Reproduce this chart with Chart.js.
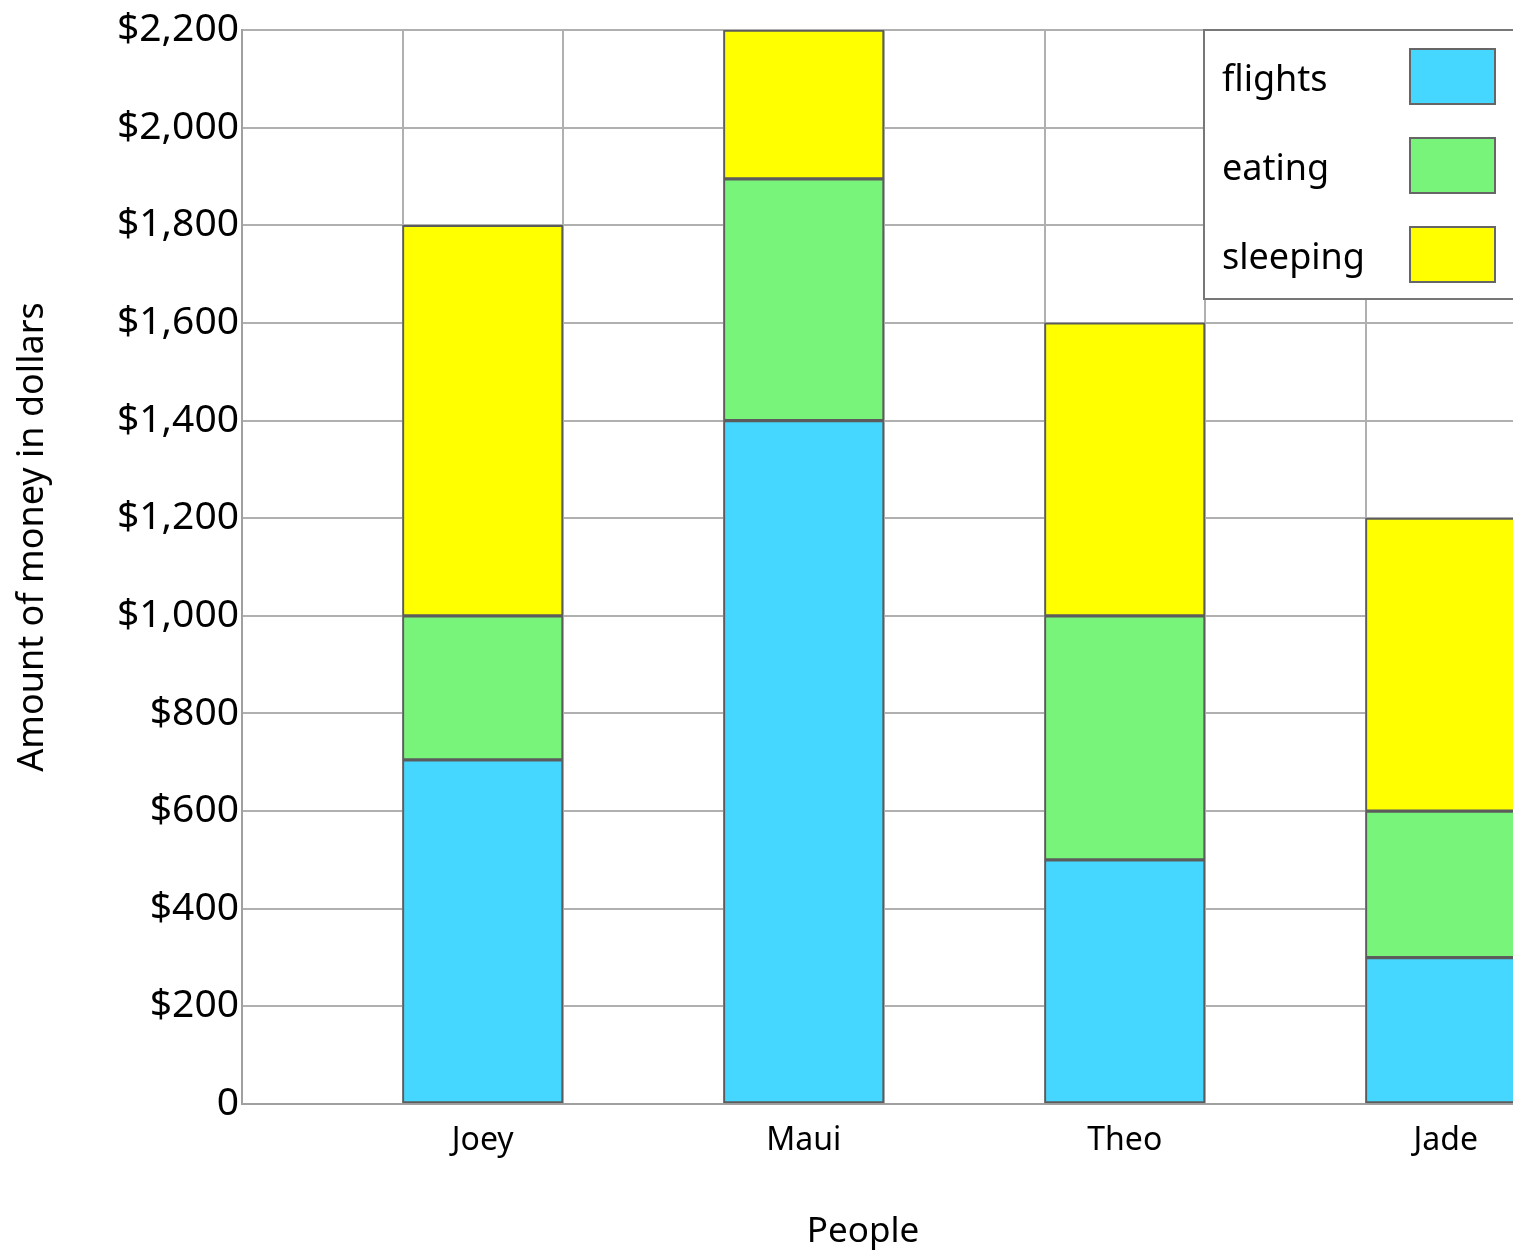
<!DOCTYPE html>
<html>
<head>
<meta charset="utf-8">
<script src="https://cdn.jsdelivr.net/npm/chart.js@4/dist/chart.umd.min.js"></script>
<style>
  html, body { margin: 0; padding: 0; overflow: hidden; background: #fff; }
  #wrap { width: 1526px; height: 1254px; }
</style>
</head>
<body>
<div id="wrap"><canvas id="c" width="1526" height="1254"></canvas></div>
<script>
// Trip spending per person, split by category
const people   = ['Joey', 'Maui', 'Theo', 'Jade'];
const flights  = [705, 1400, 500, 300];
const eating   = [295, 495, 500, 300];
const sleeping = [800, 305, 600, 600];
const seriesNames  = ['flights', 'eating', 'sleeping'];
const seriesColors = ['#45D7FF', '#79F47A', '#FFFF00'];
const yTicks = { min: 0, max: 2200, step: 200 };

const FONT = "'Noto Sans', 'DejaVu Sans', sans-serif";

// Each person gets a bar slot preceded by an empty gap slot
const slotLabels = [];
people.forEach(p => { slotLabels.push(''); slotLabels.push(p); });
const spread = arr => {
  const out = [];
  arr.forEach(v => { out.push(null); out.push(v); });
  return out;
};

const datasets = [flights, eating, sleeping].map((vals, i) => ({
  label: seriesNames[i],
  data: spread(vals),
  backgroundColor: seriesColors[i],
  borderColor: '#5c5c5c',
  borderWidth: 2,
  borderSkipped: false,
  barPercentage: 1,
  categoryPercentage: 1
}));

// Legend box in the upper right and axis titles
const decor = {
  id: 'decor',
  afterDraw(chart) {
    const ctx = chart.ctx;
    const area = chart.chartArea;
    ctx.save();
    // legend box, open on the right where it runs off the edge
    const x0 = 1204, y0 = area.top, x1 = chart.width + 50, y1 = 299;
    ctx.fillStyle = '#fff';
    ctx.fillRect(x0, y0, x1 - x0, y1 - y0);
    ctx.strokeStyle = '#777';
    ctx.lineWidth = 2;
    ctx.beginPath();
    ctx.moveTo(x1, y0);
    ctx.lineTo(x0, y0);
    ctx.lineTo(x0, y1);
    ctx.lineTo(x1, y1);
    ctx.stroke();
    chart.data.datasets.forEach((ds, i) => {
      const rowTop = 48 + i * 89;
      ctx.fillStyle = '#000';
      ctx.font = '36px ' + FONT;
      ctx.textAlign = 'left';
      ctx.textBaseline = 'alphabetic';
      ctx.fillText(ds.label, 1222, rowTop + 43);
      ctx.fillStyle = ds.backgroundColor;
      ctx.fillRect(1410, rowTop + 1, 85, 55);
      ctx.strokeStyle = '#666';
      ctx.lineWidth = 2;
      ctx.strokeRect(1410, rowTop + 1, 85, 55);
    });
    // axis titles
    ctx.fillStyle = '#000';
    ctx.font = '35px ' + FONT;
    ctx.textAlign = 'center';
    ctx.textBaseline = 'middle';
    ctx.fillText('People', 863, 1232);
    ctx.translate(33, 537);
    ctx.rotate(-Math.PI / 2);
    ctx.font = '36px ' + FONT;
    ctx.fillText('Amount of money in dollars', 0, 0);
    ctx.restore();
  }
};

new Chart(document.getElementById('c'), {
  type: 'bar',
  data: { labels: slotLabels, datasets },
  options: {
    responsive: false,
    animation: false,
    layout: { padding: { top: 30, right: 0, left: 0, bottom: 0 } },
    plugins: { legend: { display: false }, tooltip: { enabled: false } },
    scales: {
      x: {
        stacked: true,
        offset: true,
        grid: { offset: true, color: '#b0b0b0', lineWidth: 2, drawTicks: false },
        border: { color: '#a0a0a0', width: 2 },
        ticks: { color: '#000', font: { size: 32, family: FONT }, padding: 18, autoSkip: false, maxRotation: 0 },
        afterFit(s) { s.height = 150; }
      },
      y: {
        stacked: true,
        min: yTicks.min,
        max: yTicks.max,
        grid: { color: '#b0b0b0', lineWidth: 2, drawTicks: false },
        border: { color: '#a0a0a0', width: 2 },
        ticks: {
          stepSize: yTicks.step,
          color: '#000',
          padding: 3,
          font: { size: 39, family: FONT },
          callback: v => v === 0 ? '0' : '$' + v.toLocaleString('en-US')
        },
        afterFit(s) { s.width = 242; }
      }
    }
  },
  plugins: [decor]
});
</script>
</body>
</html>
